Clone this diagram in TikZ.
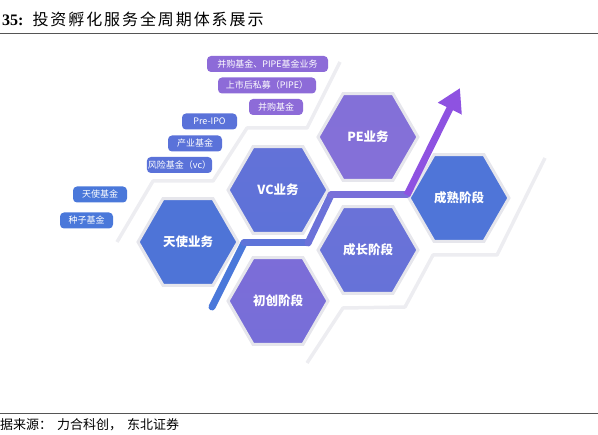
\documentclass[tikz,border=0pt]{standalone}
\usepackage{fontspec}
\setmainfont{Liberation Serif}
\newfontfamily\cjk{Noto Sans CJK SC}
\usetikzlibrary{shapes.geometric, arrows.meta}
\definecolor{hexline}{HTML}{E6E6EC}
\definecolor{bgline}{HTML}{EDEDF1}
\definecolor{angelblue}{HTML}{4E74D7}
\definecolor{vcblue}{HTML}{5D72D8}
\definecolor{pepurple}{HTML}{8470D8}
\definecolor{startpurple}{HTML}{7C6DD8}
\definecolor{growblue}{HTML}{6672D8}
\definecolor{maturblue}{HTML}{4F75D8}
\definecolor{pillblue}{HTML}{4A78DA}
\definecolor{pillmid}{HTML}{5A72D9}
\definecolor{pillpurple}{HTML}{8D6BD8}
\definecolor{rulegray}{HTML}{555555}

\begin{document}
\begin{tikzpicture}[
    x=1pt, y=-1pt,
    % Styles
    hexnode/.style={
        regular polygon,
        regular polygon sides=6,
        minimum size=100pt,
        inner sep=0pt,
        draw=hexline,
        line width=3pt,
        text=white,
        font=\cjk\bfseries\fontsize{12.5}{14}\selectfont
    },
    pill/.style={
        rectangle,
        rounded corners=4pt,
        minimum height=16pt,
        inner sep=1pt,
        text=white,
        font=\cjk\fontsize{9}{10}\selectfont
    },
    bgstep/.style={
        draw=bgline,
        line width=3.5pt,
        line join=round
    },
    rise/.style={
        line width=7pt,
        line cap=round
    }
]
    \useasboundingbox (0,0) rectangle (598,435);

    % ================= TITLE / SOURCE =================
    \node[anchor=west, inner sep=0pt] (title) at (2,19)
        {\fontsize{16}{18}\selectfont\textbf{35:}\hspace{9pt}{\cjk\addfontfeature{LetterSpace=12}\fontsize{16}{18}\selectfont 投资孵化服务全周期体系展示}};
    \draw[rulegray, line width=0.8pt] (0,33) -- (598,33);
    \draw[rulegray, line width=0.8pt] (0,413) -- (598,413);
    \node[anchor=west, inner sep=0pt] (source) at (0,425)
        {\cjk\fontsize{13}{15}\selectfont 据来源：\hspace{5pt}力合科创，\hspace{5pt}东北证券};

    % ================= BACKGROUND STEPS =================
    \draw[bgstep] (117,242) -- (153,181) -- (213,181) -- (247,128) -- (307,128) -- (340,62);
    \draw[bgstep] (307,363) -- (343,308) -- (405,307) -- (433,255) -- (497,255) -- (545,158);

    % ================= HEXAGONS =================
    \node[hexnode, fill=angelblue] (angel) at (188,242) {天使业务};
    \node[hexnode, top color=vcblue!85!pepurple, bottom color=vcblue] (vc) at (278,190) {VC业务};
    \node[hexnode, top color=pepurple!90!startpurple, bottom color=pepurple] (pe) at (368,137) {PE业务};
    \node[hexnode, top color=startpurple, bottom color=startpurple!75!growblue] (start) at (278,301) {初创阶段};
    \node[hexnode, top color=growblue!85!pepurple, bottom color=growblue] (grow) at (368,250) {成长阶段};
    \node[hexnode, fill=maturblue] (mature) at (459,198) {成熟阶段};

    % ================= RISING ARROW =================
    \coordinate (a0) at (212,307);
    \coordinate (a1) at (244,243);
    \coordinate (a2) at (308,243);
    \coordinate (a3) at (331,195);
    \coordinate (a4) at (407,195);
    \coordinate (tip) at (460,88);
    \draw[rise, draw=pillblue] (a0) -- (a1);
    \draw[rise, draw=pillblue!70!pillpurple] (a1) -- (a2);
    \draw[rise, draw=pillblue!50!pillpurple] (a2) -- (a3);
    \draw[rise, draw=pillblue!30!pillpurple] (a3) -- (a4);
    \draw[rise, draw=pillpurple!85!magenta!90!blue, line cap=butt,
          -{Triangle[length=23pt, width=25pt]}] (a4) -- (tip);

    % ================= FUND PILLS =================
    \node[pill, fill=pillblue, minimum width=54pt] (angelfund) at (100,194.5) {天使基金};
    \node[pill, fill=pillblue, minimum width=53pt] (seedfund) at (86.5,220.5) {种子基金};
    \node[pill, fill=pillmid, minimum width=65pt] (vcfund) at (179.5,165) {风险基金（vc）};
    \node[pill, fill=pillmid, minimum width=54pt] (indfund) at (195,143.5) {产业基金};
    \node[pill, fill=pillmid, minimum width=55pt] (preipo) at (209.5,121.5) {Pre-IPO};
    \node[pill, fill=pillpurple, minimum width=54pt] (mafund) at (276,107) {并购基金};
    \node[pill, fill=pillpurple, minimum width=98pt] (pipe) at (267,85.5) {上市后私募（PIPE）};
    \node[pill, fill=pillpurple, minimum width=121pt] (mapipe) at (267.5,64) {并购基金、PIPE基金业务};

\end{tikzpicture}
\end{document}
